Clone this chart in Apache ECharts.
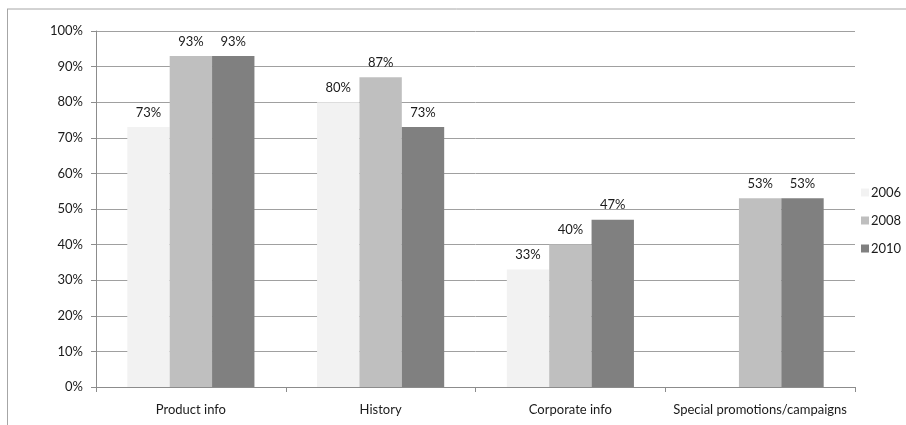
<!DOCTYPE html>
<html>
<head>
<meta charset="utf-8">
<script src="https://cdn.jsdelivr.net/npm/echarts@6/dist/echarts.min.js"></script>
<style>
  html, body { margin: 0; padding: 0; background: #fff; }
  #chart { width: 906px; height: 425px; }
</style>
</head>
<body>
<div id="chart"></div>
<script>
const categories = ['Product info', 'History', 'Corporate info', 'Special promotions/campaigns']
const years = ['2006', '2008', '2010']
const values2006 = [73, 80, 33, null]
const values2008 = [93, 87, 40, 53]
const values2010 = [93, 73, 47, 53]
const yTicks = [0, 10, 20, 30, 40, 50, 60, 70, 80, 90, 100]

const colors = ['#f2f2f2', '#bfbfbf', '#808080']
const font = 'Lato, "Open Sans", sans-serif'

const chart = echarts.init(document.getElementById('chart'))

const makeSeries = (name, data, color) => ({
    name: name,
    type: 'bar',
    data: data,
    barGap: 0,
    barCategoryGap: '33%',
    itemStyle: { color: color },
    label: {
        show: true,
        position: 'top',
        distance: 8,
        formatter: p => p.value + '%',
        color: '#1a1a1a',
        fontFamily: font,
        fontSize: 13
    }
})

chart.setOption({
    animation: false,
    grid: {
        left: 96,
        right: 51,
        top: 31,
        bottom: 38,
        containLabel: false
    },
    legend: {
        orient: 'vertical',
        left: 856,
        top: 181,
        itemWidth: 8,
        itemHeight: 8,
        itemGap: 15,
        icon: 'rect',
        data: years,
        textStyle: { fontFamily: font, fontSize: 13, color: '#1a1a1a', padding: [0, 0, 0, -3] }
    },
    xAxis: {
        type: 'category',
        data: categories,
        axisLine: { lineStyle: { color: '#8c8c8c' } },
        axisTick: { show: true, interval: 0, length: 5, lineStyle: { color: '#8c8c8c' } },
        axisLabel: { interval: 0, fontFamily: font, fontSize: 13, color: '#1a1a1a', margin: 16 }
    },
    yAxis: {
        type: 'value',
        min: yTicks[0],
        max: yTicks[yTicks.length - 1],
        interval: 10,
        axisLine: { show: true, lineStyle: { color: '#8c8c8c' } },
        axisTick: { show: true, length: 5, lineStyle: { color: '#8c8c8c' } },
        axisLabel: { formatter: '{value}%', fontFamily: font, fontSize: 13, color: '#1a1a1a', margin: 13 },
        splitLine: { lineStyle: { color: '#a0a0a0' } }
    },
    graphic: [
        { type: 'line', shape: { x1: 7, y1: 9, x2: 906, y2: 9 }, style: { stroke: '#a6a6a6', lineWidth: 1 } },
        { type: 'line', shape: { x1: 7.5, y1: 9, x2: 7.5, y2: 425 }, style: { stroke: '#a6a6a6', lineWidth: 1 } }
    ],
    series: [
        makeSeries(years[0], values2006, colors[0]),
        makeSeries(years[1], values2008, colors[1]),
        makeSeries(years[2], values2010, colors[2])
    ]
})
</script>
</body>
</html>
